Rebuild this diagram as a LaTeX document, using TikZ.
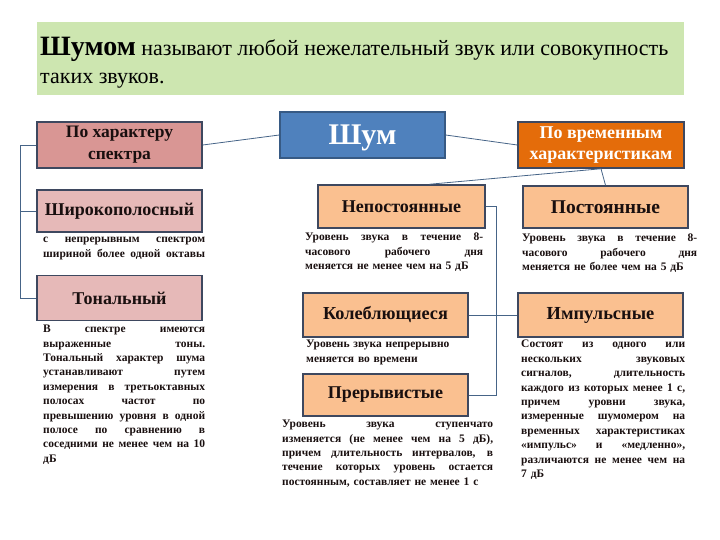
\documentclass[tikz,border=0pt]{standalone}
\usepackage{fontspec}
\setmainfont{Liberation Serif}
\definecolor{hdrc}{RGB}{205,230,176}
\definecolor{specc}{RGB}{217,150,148}
\definecolor{pinkc}{RGB}{230,185,184}
\definecolor{shumc}{RGB}{79,129,189}
\definecolor{vremc}{RGB}{228,108,10}
\definecolor{peachc}{RGB}{250,192,144}
\definecolor{bordc}{RGB}{62,72,95}
\definecolor{linec}{RGB}{70,100,135}
\definecolor{txtc}{RGB}{25,15,15}
\newcommand\tw{162pt}
\newcommand\jl[1]{\leavevmode\hbox to \tw{\spaceskip=0.28em plus 1fil\relax #1}}
\begin{document}
\begin{tikzpicture}[x=1pt,y=-1pt,
  box/.style={draw=bordc, line width=1.5pt, inner sep=0pt, align=center, text=txtc,
    minimum width=165pt},
  conn/.style={draw=linec, line width=0.8pt},
  small/.style={anchor=north west, inner sep=0pt, align=left, text=txtc,
    font=\fontsize{11.5}{14.4}\selectfont\bfseries}]
\useasboundingbox (0,0) rectangle (720,540);
% header
\node[fill=hdrc, minimum width=647pt, minimum height=73pt, inner sep=0pt] (hdr) at (360.5,58.5) {};
\node[anchor=base west, inner sep=0pt] (hdrt1) at (40,56)
  {\fontsize{28}{30}\selectfont\bfseries Шумом\fontsize{22}{24}\selectfont\mdseries{} называют любой нежелательный звук или совокупность};
\node[anchor=base west, inner sep=0pt] (hdrt2) at (40,84)
  {\fontsize{22}{24}\selectfont таких звуков.};
% boxes
\node[box, fill=specc, minimum height=46pt, font=\fontsize{17.5}{22}\selectfont\bfseries] (spec) at (119.5,145) {По характеру\\спектра};
\node[box, fill=pinkc, minimum height=42pt, font=\fontsize{18}{22}\selectfont\bfseries] (wide) at (119.5,211) {Широкополосный};
\node[box, fill=pinkc, minimum height=45pt, font=\fontsize{18}{22}\selectfont\bfseries] (tonal) at (119.5,298) {Тональный};
\node[box, fill=shumc, draw=shumc!70!black, minimum height=46pt, text depth=0pt, text=white, font=\fontsize{30}{34}\selectfont\bfseries] (shum) at (362.5,135) {Шум};
\node[box, fill=vremc, draw=bordc, minimum width=166pt, minimum height=46pt, text=white, font=\fontsize{18}{21}\selectfont\bfseries] (vrem) at (601,145) {По временным\\характеристикам};
\node[box, fill=peachc, minimum width=167pt, minimum height=43pt, font=\fontsize{18}{22}\selectfont\bfseries] (nep) at (401.5,206.5) {Непостоянные};
\node[box, fill=peachc, minimum height=42pt, font=\fontsize{19.5}{22}\selectfont\bfseries] (post) at (605.5,207) {Постоянные};
\node[box, fill=peachc, minimum height=44pt, font=\fontsize{18.3}{22}\selectfont\bfseries] (kol) at (385.5,315) {Колеблющиеся};
\node[box, fill=peachc, minimum height=42pt, font=\fontsize{18}{22}\selectfont\bfseries] (prer) at (385.5,395) {Прерывистые};
\node[box, fill=peachc, minimum height=44pt, font=\fontsize{18.4}{22}\selectfont\bfseries] (imp) at (600.5,315) {Импульсные};
% texts
\node[small, text width=162pt] (widet) at (43,237) {\renewcommand\tw{162pt}\jl{с непрерывным спектром}\\\jl{шириной более одной октавы}};
\node[small, text width=162pt] (tonalt) at (43,325) {\renewcommand\tw{162pt}\jl{В спектре имеются}\\\jl{выраженные тоны.}\\\jl{Тональный характер шума}\\\jl{устанавливают путем}\\\jl{измерения в третьоктавных}\\\jl{полосах частот по}\\\jl{превышению уровня в одной}\\\jl{полосе по сравнению в}\\\jl{соседними не менее чем на 10}\\дБ};
\node[small, text width=178pt] (nept) at (305,233) {\renewcommand\tw{178pt}\jl{Уровень звука в течение 8-}\\\jl{часового рабочего дня}\\меняется не менее чем на 5 дБ};
\node[small, text width=175pt] (postt) at (522,234) {\renewcommand\tw{175pt}\jl{Уровень звука в течение 8-}\\\jl{часового рабочего дня}\\меняется не более чем на 5 дБ};
\node[small, text width=170pt] (kolt) at (306,340) {Уровень звука непрерывно\\меняется во времени};
\node[small, text width=211pt] (prert) at (282,420) {\renewcommand\tw{211pt}\jl{Уровень звука ступенчато}\\\jl{изменяется (не менее чем на 5 дБ),}\\\jl{причем длительность интервалов, в}\\\jl{течение которых уровень остается}\\постоянным, составляет не менее 1 с};
\node[small, text width=164pt] (impt) at (521,340) {\renewcommand\tw{164pt}\jl{Состоят из одного или}\\\jl{нескольких звуковых}\\\jl{сигналов, длительность}\\\jl{каждого из которых менее 1 с,}\\\jl{причем уровни звука,}\\\jl{измеренные шумомером на}\\\jl{временных характеристиках}\\\jl{«импульс» и «медленно»,}\\\jl{различаются не менее чем на}\\7 дБ};
% connectors
\coordinate (lv) at (20,0);
\coordinate (rv) at (496,0);
\draw[conn] (spec.west) -- (spec.west -| lv) -- (tonal.west -| lv) -- (tonal.west);
\draw[conn] (wide.west) -- (wide.west -| lv);
\draw[conn] (shum.west) -- (spec.east);
\draw[conn] (shum.east) -- (vrem.west);
\draw[conn] (vrem.south) -- ([xshift=28pt]nep.north);
\draw[conn] (vrem.south) -- (post.north);
\draw[conn] (nep.east) -- (nep.east -| rv) -- (prer.east -| rv) -- (prer.east);
\draw[conn] (kol.east) -- (imp.west);
\end{tikzpicture}
\end{document}
